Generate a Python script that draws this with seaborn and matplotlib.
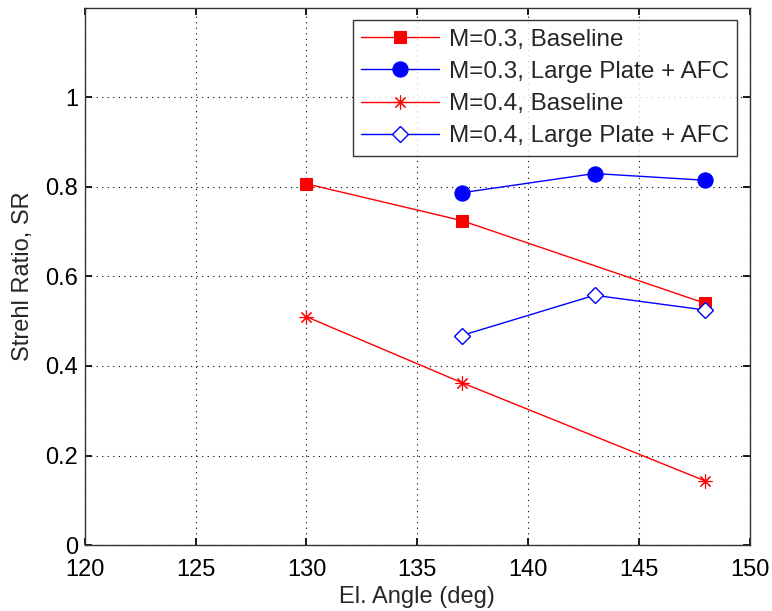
import matplotlib
matplotlib.use("Agg")
import matplotlib.pyplot as plt
import seaborn as sns
import pandas as pd

sns.set_theme(style="white")
plt.rcParams['font.family'] = ['Liberation Sans', 'DejaVu Sans']

x_base = [130, 137, 148]
x_lp = [137, 143, 148]
m03_baseline = [0.807, 0.725, 0.540]
m03_lp_afc = [0.787, 0.830, 0.815]
m04_baseline = [0.510, 0.363, 0.143]
m04_lp_afc = [0.468, 0.558, 0.525]

labels = ["M=0.3, Baseline", "M=0.3, Large Plate + AFC",
          "M=0.4, Baseline", "M=0.4, Large Plate + AFC"]
xticks = [120, 125, 130, 135, 140, 145, 150]
yticks = [0, 0.2, 0.4, 0.6, 0.8, 1]
ytick_labels = ["0", "0.2", "0.4", "0.6", "0.8", "1"]

fig = plt.figure(figsize=(7.72, 6.11), dpi=100)
ax = fig.add_axes([0.110, 0.108, 0.861, 0.879])

series = [
    (x_base, m03_baseline, labels[0], dict(color="#ff0000", marker="s", markersize=9,
                                            markerfacecolor="#ff0000", markeredgecolor="#ff0000")),
    (x_lp, m03_lp_afc, labels[1], dict(color="#0000ff", marker="o", markersize=11,
                                        markerfacecolor="#0000ff", markeredgecolor="#0000ff")),
    (x_base, m04_baseline, labels[2], dict(color="#ff0000", marker=(8, 2, 0), markersize=10,
                                            markerfacecolor="#ff0000", markeredgecolor="#ff0000",
                                            markeredgewidth=0.8)),
    (x_lp, m04_lp_afc, labels[3], dict(color="#0000ff", marker="D", markersize=8,
                                        markerfacecolor="white", markeredgecolor="#0000ff",
                                        markeredgewidth=1.0)),
]

for xs, ys, lab, kw in series:
    df = pd.DataFrame({"x": xs, "y": ys})
    sns.lineplot(data=df, x="x", y="y", ax=ax, label=lab, linewidth=1.0, **kw)

ax.set_xlim(120, 150)
ax.set_ylim(0, 1.2)
ax.set_xticks(xticks)
ax.set_yticks(yticks)
ax.set_yticklabels(ytick_labels)
ax.grid(True, color="black", linestyle=(0, (1, 4)), linewidth=0.8)
ax.tick_params(axis="both", direction="in", length=5, labelsize=17, color="black",
               labelcolor="black", top=True, right=True, bottom=True, left=True)
ax.tick_params(axis="x", pad=10)
ax.tick_params(axis="y", pad=5)
for sp in ax.spines.values():
    sp.set_color("#333333")
    sp.set_linewidth(1.0)
ax.set_xlabel("El. Angle (deg)", fontsize=17, labelpad=4)
ax.set_ylabel("Strehl Ratio, SR", fontsize=17, labelpad=8)

leg = ax.legend(loc="upper right", fontsize=17.5, frameon=True, fancybox=False,
                edgecolor="black", borderpad=0.35, labelspacing=0.42, handlelength=3.2,
                handletextpad=0.4, borderaxespad=0.5)
leg.get_frame().set_linewidth(1.0)

fig.savefig("out.png", dpi=100)
